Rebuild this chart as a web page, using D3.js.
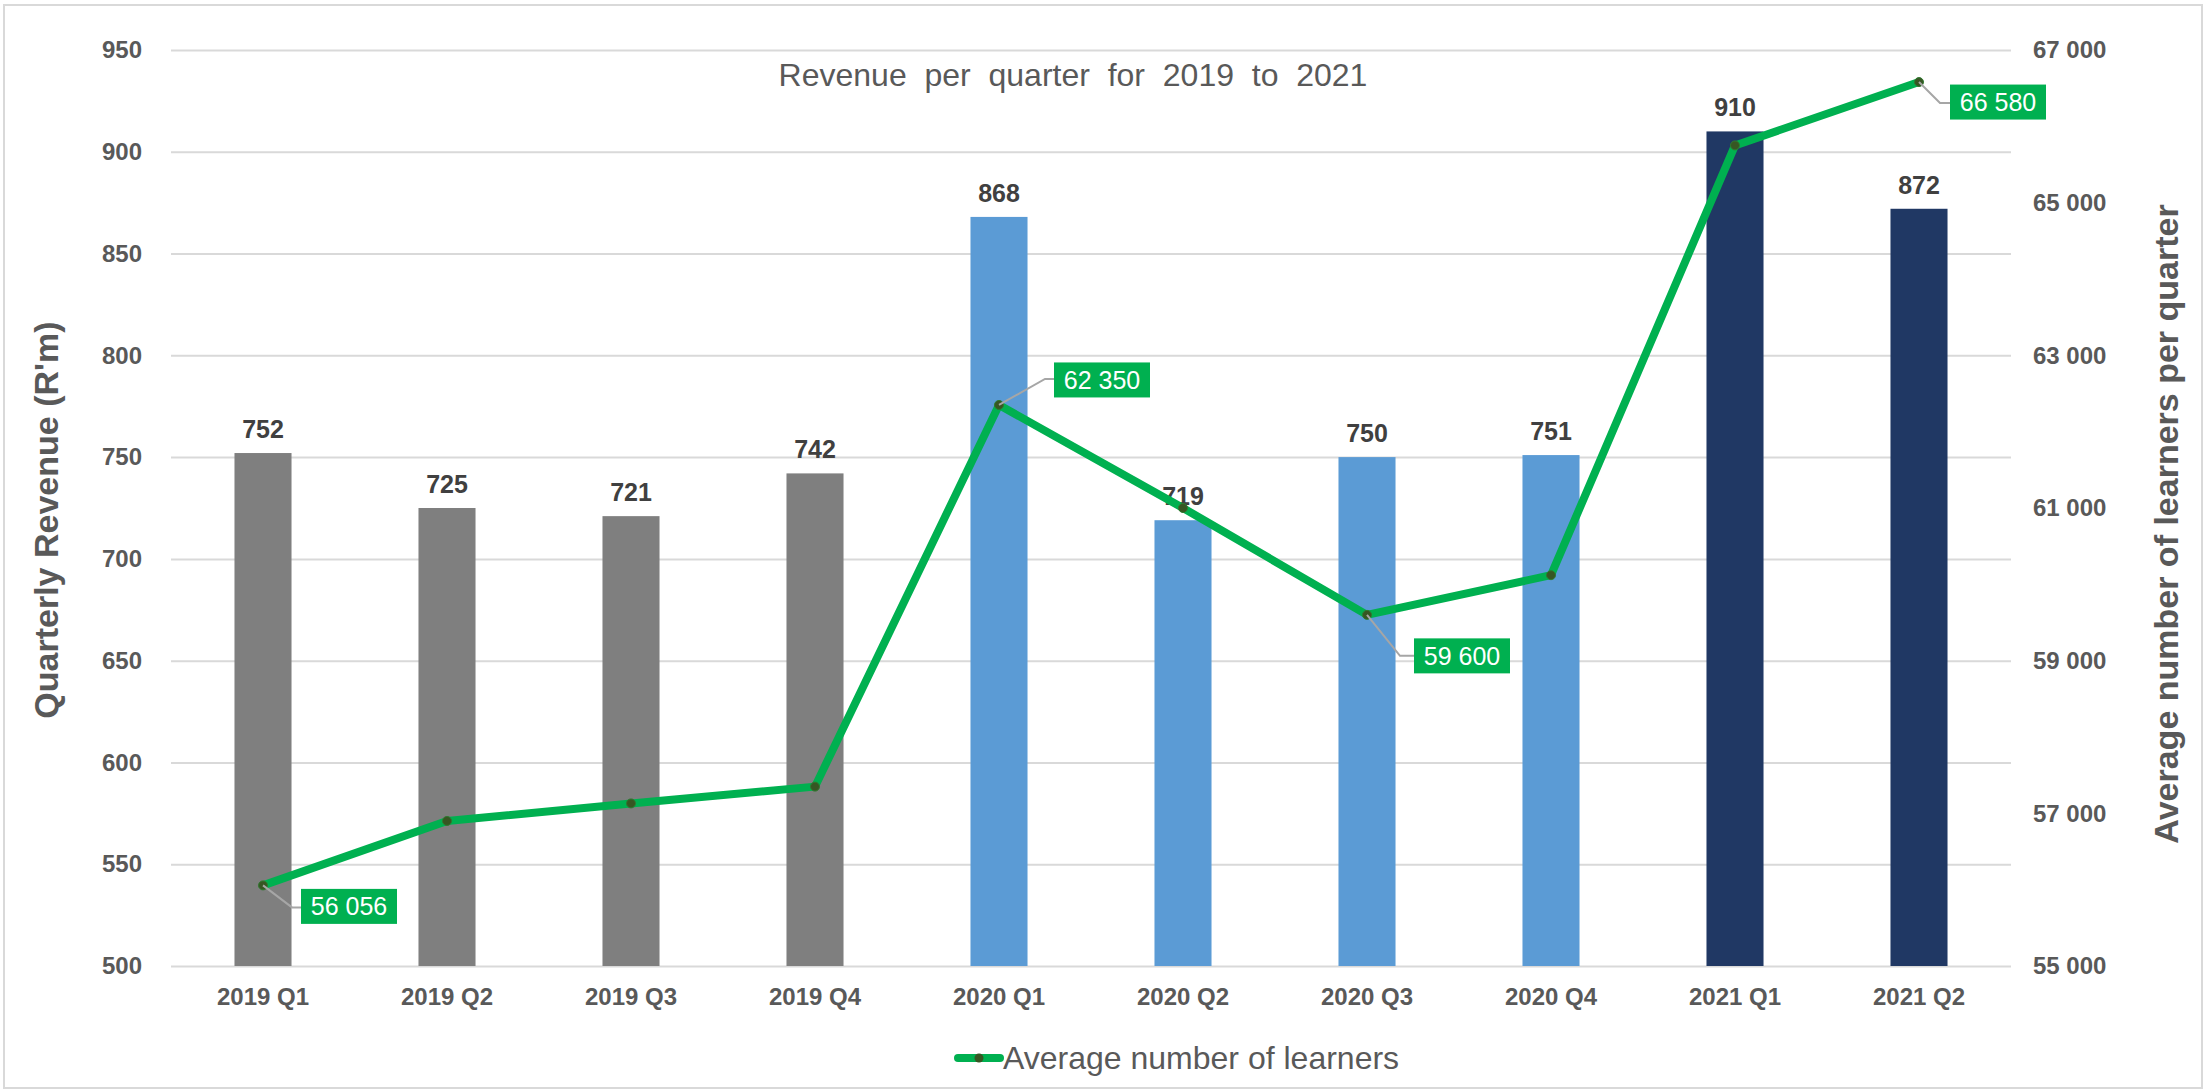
<!DOCTYPE html>
<html>
<head>
<meta charset="utf-8">
<script src="https://cdn.jsdelivr.net/npm/d3@7"></script>
<style>
  html, body { margin: 0; padding: 0; background: #ffffff; }
  svg { display: block; }
  text { font-family: "Liberation Sans", Arial, sans-serif; }
</style>
</head>
<body>
<div id="chart"></div>
<script>
// ---------------- DATA ----------------
const categories = ["2019 Q1","2019 Q2","2019 Q3","2019 Q4","2020 Q1","2020 Q2","2020 Q3","2020 Q4","2021 Q1","2021 Q2"];
const years = ["2019","2019","2019","2019","2020","2020","2020","2020","2021","2021"];
const revenue = [752, 725, 721, 742, 868, 719, 750, 751, 910, 872];
const learners = [56056, 56900, 57130, 57350, 62350, 61000, 59600, 60120, 65750, 66580];
const learnerLabelIdx = [0, 4, 6, 9];
const leftTicks = [500, 550, 600, 650, 700, 750, 800, 850, 900, 950];
const rightTicks = [55000, 57000, 59000, 61000, 63000, 65000, 67000];
const titleText = "Revenue  per  quarter  for  2019  to  2021";
const leftTitle = "Quarterly Revenue (R'm)";
const rightTitle = "Average number of learners per quarter";
const legendText = "Average number of learners";

// ---------------- STYLE / LAYOUT ----------------
const W = 2205, H = 1092;
const plot = { left: 171, right: 2011, top: 50, bottom: 966 };
const yearColor = { "2019": "#7F7F7F", "2020": "#5B9BD5", "2021": "#203864" };
const green = "#00B050";
const axisGrey = "#595959";
// label box offsets relative to its point (dx to box left, dy to box centre)
const labelOffsets = { 0: [38, 21], 4: [55, -25], 6: [47, 41], 9: [31, 20] };
const leaderElbow = { 0: [29, 22], 4: [46, -26], 6: [33, 41], 9: [21, 21] };

const fmt = d3.formatLocale({ decimal: ".", thousands: " ", grouping: [3], currency: ["", ""] }).format(",");

const svg = d3.select("#chart").append("svg")
  .attr("width", W).attr("height", H);

// outer border
svg.append("rect").attr("x", 4).attr("y", 5).attr("width", W - 7).attr("height", H - 9)
  .attr("fill", "#fff").attr("stroke", "#D9D9D9").attr("stroke-width", 2);

const x = d3.scaleBand().domain(categories).range([plot.left, plot.right])
  .paddingInner(0.69).paddingOuter(0.345);
const yL = d3.scaleLinear().domain([500, 950]).range([plot.bottom, plot.top]);
const yR = d3.scaleLinear().domain([55000, 67000]).range([plot.bottom, plot.top]);

// gridlines
const grid = svg.append("g").attr("transform", `translate(${plot.left},0)`)
  .call(d3.axisRight(yL).tickValues(leftTicks).tickSize(plot.right - plot.left).tickFormat(""));
grid.select(".domain").remove();
grid.selectAll("line").attr("stroke", "#D9D9D9").attr("stroke-width", 2);

// left axis labels
const axL = svg.append("g").attr("transform", `translate(${plot.left},0)`)
  .call(d3.axisLeft(yL).tickValues(leftTicks).tickSize(0).tickPadding(29));
axL.select(".domain").remove();
axL.selectAll("text").attr("fill", axisGrey).style("font-size", "24px").style("font-weight", "bold");

// right axis labels
const axR = svg.append("g").attr("transform", `translate(${plot.right},0)`)
  .call(d3.axisRight(yR).tickValues(rightTicks).tickSize(0).tickPadding(22).tickFormat(fmt));
axR.select(".domain").remove();
axR.selectAll("text").attr("fill", axisGrey).style("font-size", "24px").style("font-weight", "bold");

// x axis labels
const axX = svg.append("g").attr("transform", `translate(0,${plot.bottom})`)
  .call(d3.axisBottom(x).tickSize(0).tickPadding(22));
axX.select(".domain").remove();
axX.selectAll("text").attr("fill", axisGrey).style("font-size", "24px").style("font-weight", "bold");

// bars
svg.append("g").selectAll("rect").data(revenue).join("rect")
  .attr("x", (d, i) => x(categories[i]))
  .attr("y", d => yL(d))
  .attr("width", x.bandwidth())
  .attr("height", d => yL(500) - yL(d))
  .attr("fill", (d, i) => yearColor[years[i]]);

// bar value labels
svg.append("g").selectAll("text").data(revenue).join("text")
  .attr("x", (d, i) => x(categories[i]) + x.bandwidth() / 2)
  .attr("y", d => yL(d) - 15)
  .attr("text-anchor", "middle")
  .attr("fill", "#404040")
  .style("font-size", "25px").style("font-weight", "bold")
  .text(d => d);

// line
const px = i => x(categories[i]) + x.bandwidth() / 2;
const line = d3.line().x((d, i) => px(i)).y(d => yR(d));
svg.append("path").datum(learners)
  .attr("d", line).attr("fill", "none")
  .attr("stroke", green).attr("stroke-width", 8)
  .attr("stroke-linejoin", "round").attr("stroke-linecap", "round");

svg.append("g").selectAll("circle").data(learners).join("circle")
  .attr("cx", (d, i) => px(i)).attr("cy", d => yR(d))
  .attr("r", 4.5).attr("fill", "#375623").attr("stroke", "#2f7a2f").attr("stroke-width", 1);

// line labels with leader lines
const lbl = svg.append("g");
learnerLabelIdx.forEach(i => {
  const cx = px(i), cy = yR(learners[i]);
  const [dx, dy] = labelOffsets[i];
  const [ex, ey] = leaderElbow[i];
  lbl.append("polyline")
    .attr("points", `${cx},${cy} ${cx + ex},${cy + ey} ${cx + dx},${cy + ey}`)
    .attr("fill", "none").attr("stroke", "#A6A6A6").attr("stroke-width", 2);
  lbl.append("rect")
    .attr("x", cx + dx).attr("y", cy + dy - 17.5)
    .attr("width", 96).attr("height", 35).attr("fill", green);
  lbl.append("text")
    .attr("x", cx + dx + 48).attr("y", cy + dy + 9)
    .attr("text-anchor", "middle").attr("fill", "#ffffff")
    .style("font-size", "25px")
    .text(fmt(learners[i]));
});

// title
svg.append("text")
  .attr("x", 1073).attr("y", 86)
  .attr("text-anchor", "middle").attr("fill", axisGrey)
  .attr("xml:space", "preserve")
  .style("white-space", "pre")
  .style("font-size", "32px")
  .text(titleText);

// axis titles
svg.append("text")
  .attr("transform", "translate(58,520) rotate(-90)")
  .attr("text-anchor", "middle").attr("fill", axisGrey)
  .style("font-size", "34px").style("font-weight", "bold")
  .text(leftTitle);
svg.append("text")
  .attr("transform", "translate(2178,524) rotate(-90)")
  .attr("text-anchor", "middle").attr("fill", axisGrey)
  .style("font-size", "34px").style("font-weight", "bold")
  .text(rightTitle);

// legend
const lg = svg.append("g");
lg.append("line").attr("x1", 958).attr("x2", 1000).attr("y1", 1058).attr("y2", 1058)
  .attr("stroke", green).attr("stroke-width", 8).attr("stroke-linecap", "round");
lg.append("circle").attr("cx", 979).attr("cy", 1058).attr("r", 4.5).attr("fill", "#375623");
lg.append("text").attr("x", 1003).attr("y", 1069)
  .attr("fill", axisGrey).style("font-size", "32px")
  .text(legendText);
</script>
</body>
</html>
